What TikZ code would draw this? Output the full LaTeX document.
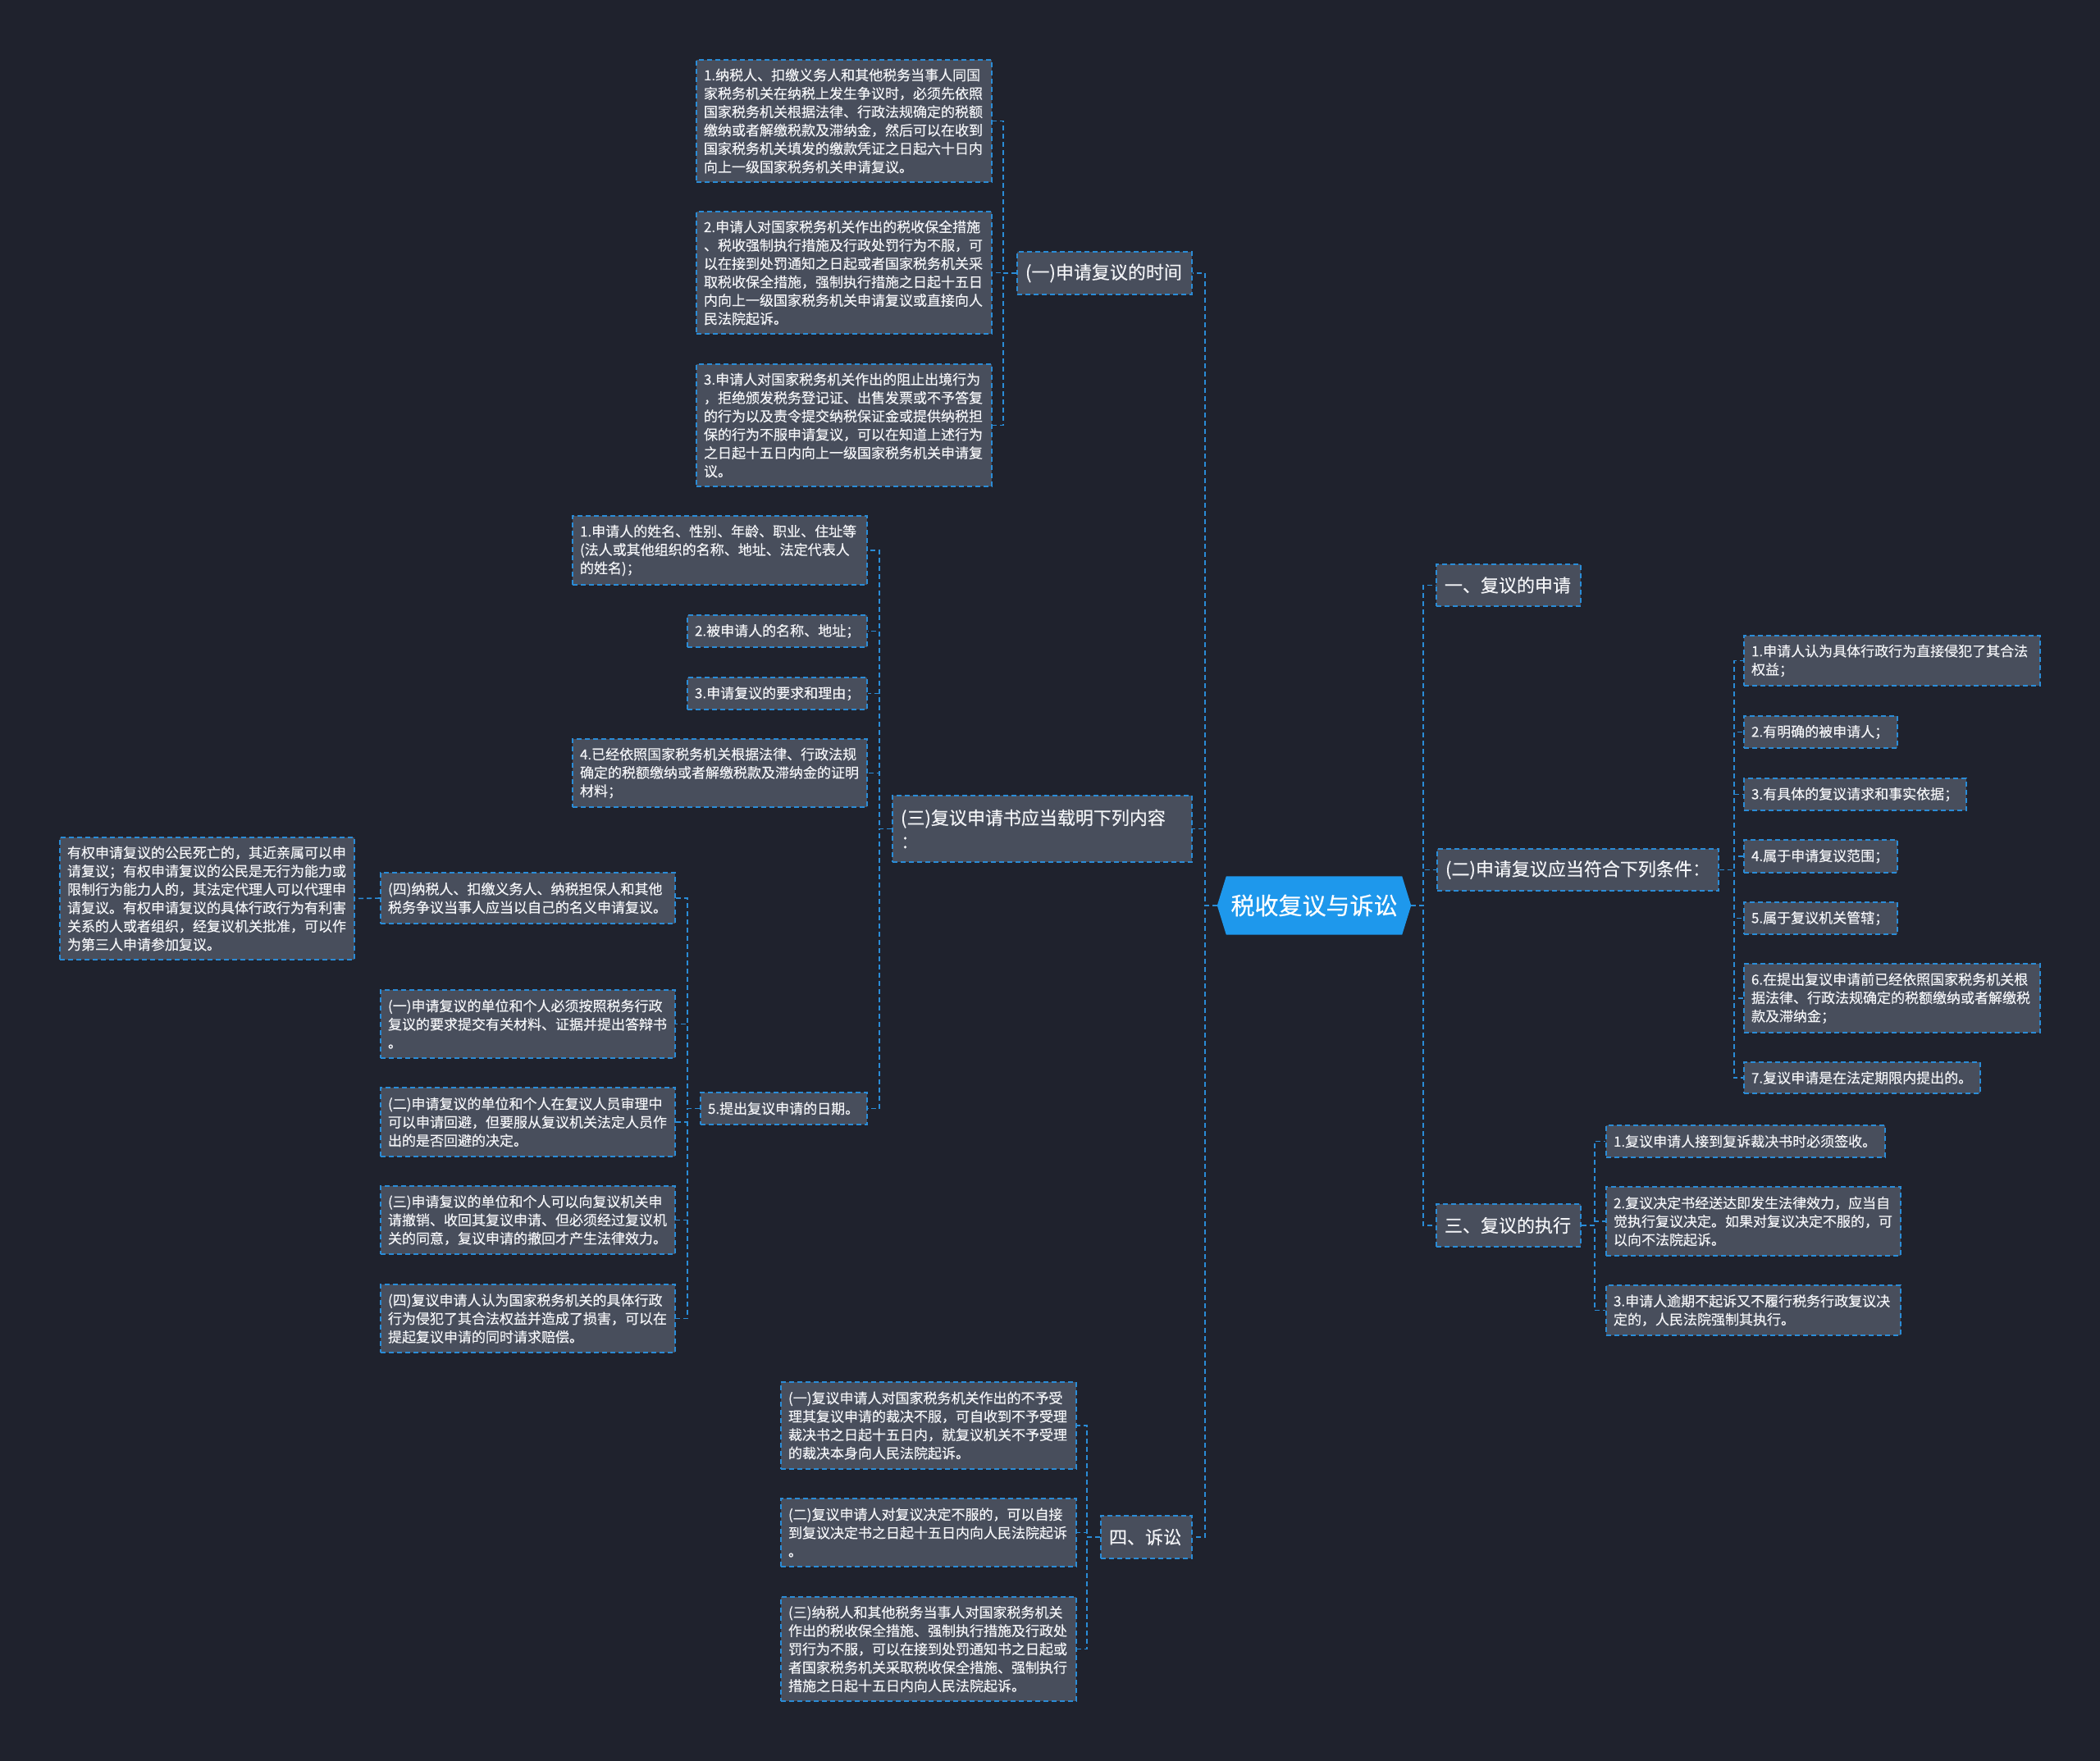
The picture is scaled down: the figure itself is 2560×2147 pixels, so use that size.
\documentclass[tikz,border=0pt]{standalone}
\usepackage{fontspec}
\newfontfamily\cjk[FakeBold=0.35]{Noto Sans CJK SC}
\usetikzlibrary{backgrounds}
\definecolor{bgc}{RGB}{31,34,45}
\definecolor{nodefill}{RGB}{72,78,92}
\definecolor{lineblue}{RGB}{42,140,215}
\definecolor{rootblue}{RGB}{30,152,236}
\definecolor{txt}{RGB}{242,243,246}
\tikzset{
  base/.style={draw=lineblue, line width=1.6pt, dash pattern=on 6pt off 4pt, fill=nodefill, text=txt, inner sep=0pt, align=left},
  leaf/.style={base, font=\cjk\fontsize{17}{22.4}\selectfont},
  cat/.style={base, font=\cjk\fontsize{22}{29}\selectfont},
  wh/.style n args={3}{minimum width=#1, minimum height=#2, text width=#3},
  conn/.style={draw=lineblue, line width=1.6pt, dash pattern=on 6pt off 4pt},
  rootnode/.style={text=white, font=\cjk\fontsize{29}{34}\selectfont, inner sep=0pt, minimum width=236, minimum height=71},
}
\begin{document}
\begin{tikzpicture}[x=1pt,y=-1pt]
\begin{scope}[on background layer]
\fill[bgc] (0,0) rectangle (2560,2147);
\end{scope}
\useasboundingbox (0,0) rectangle (2560,2147);

% root
\node[rootnode] (root) at (1602,1104) {税收复议与诉讼};
\begin{scope}[on background layer]
\fill[rootblue] ([xshift=11pt]root.north west) -- ([xshift=-11pt]root.north east) -- (root.east) -- ([xshift=-11pt]root.south east) -- ([xshift=11pt]root.south west) -- (root.west) -- cycle;
\end{scope}

% left categories
\node[cat, wh={213}{52}{193}] (t1) at (1346.5,333) {(一)申请复议的时间};
\node[cat, wh={365}{81}{345}] (t2) at (1270.5,1010.5) {(三)复议申请书应当载明下列内容\\：};
\node[cat, wh={111}{52}{91}] (t3) at (1397.5,1874) {四、诉讼};

% (一) children
\node[leaf, wh={360}{149}{342}] (a1) at (1029,147.5) {1.纳税人、扣缴义务人和其他税务当事人同国\\家税务机关在纳税上发生争议时，必须先依照\\国家税务机关根据法律、行政法规确定的税额\\缴纳或者解缴税款及滞纳金，然后可以在收到\\国家税务机关填发的缴款凭证之日起六十日内\\向上一级国家税务机关申请复议。};
\node[leaf, wh={360}{149}{342}] (a2) at (1029,332.5) {2.申请人对国家税务机关作出的税收保全措施\\、税收强制执行措施及行政处罚行为不服，可\\以在接到处罚通知之日起或者国家税务机关采\\取税收保全措施，强制执行措施之日起十五日\\内向上一级国家税务机关申请复议或直接向人\\民法院起诉。};
\node[leaf, wh={360}{149}{342}] (a3) at (1029,518.5) {3.申请人对国家税务机关作出的阻止出境行为\\，拒绝颁发税务登记证、出售发票或不予答复\\的行为以及责令提交纳税保证金或提供纳税担\\保的行为不服申请复议，可以在知道上述行为\\之日起十五日内向上一级国家税务机关申请复\\议。};

% (三) children
\node[leaf, wh={359}{84}{341}] (b1) at (877.5,671) {1.申请人的姓名、性别、年龄、职业、住址等\\(法人或其他组织的名称、地址、法定代表人\\的姓名)；};
\node[leaf, wh={219}{39}{201}] (b2) at (947.5,769.5) {2.被申请人的名称、地址；};
\node[leaf, wh={219}{39}{201}] (b3) at (947.5,845.5) {3.申请复议的要求和理由；};
\node[leaf, wh={359}{83}{341}] (b4) at (877.5,942.5) {4.已经依照国家税务机关根据法律、行政法规\\确定的税额缴纳或者解缴税款及滞纳金的证明\\材料；};
\node[leaf, wh={203}{39}{185}] (b5) at (955.5,1351.5) {5.提出复议申请的日期。};

% 5. children
\node[leaf, wh={359}{62}{341}] (c0) at (643.5,1095) {(四)纳税人、扣缴义务人、纳税担保人和其他\\税务争议当事人应当以自己的名义申请复议。};
\node[leaf, wh={359}{149}{341}] (d0) at (252.5,1095.5) {有权申请复议的公民死亡的，其近亲属可以申\\请复议；有权申请复议的公民是无行为能力或\\限制行为能力人的，其法定代理人可以代理申\\请复议。有权申请复议的具体行政行为有利害\\关系的人或者组织，经复议机关批准，可以作\\为第三人申请参加复议。};
\node[leaf, wh={359}{83}{341}] (c1) at (643.5,1248.5) {(一)申请复议的单位和个人必须按照税务行政\\复议的要求提交有关材料、证据并提出答辩书\\。};
\node[leaf, wh={359}{84}{341}] (c2) at (643.5,1368) {(二)申请复议的单位和个人在复议人员审理中\\可以申请回避，但要服从复议机关法定人员作\\出的是否回避的决定。};
\node[leaf, wh={359}{83}{341}] (c3) at (643.5,1487.5) {(三)申请复议的单位和个人可以向复议机关申\\请撤销、收回其复议申请、但必须经过复议机\\关的同意，复议申请的撤回才产生法律效力。};
\node[leaf, wh={359}{83}{341}] (c4) at (643.5,1607.5) {(四)复议申请人认为国家税务机关的具体行政\\行为侵犯了其合法权益并造成了损害，可以在\\提起复议申请的同时请求赔偿。};

% 四、诉讼 children
\node[leaf, wh={360}{106}{342}] (e1) at (1132,1738) {(一)复议申请人对国家税务机关作出的不予受\\理其复议申请的裁决不服，可自收到不予受理\\裁决书之日起十五日内，就复议机关不予受理\\的裁决本身向人民法院起诉。};
\node[leaf, wh={360}{83}{342}] (e2) at (1132,1868.5) {(二)复议申请人对复议决定不服的，可以自接\\到复议决定书之日起十五日内向人民法院起诉\\。};
\node[leaf, wh={360}{127}{342}] (e3) at (1132,2010.5) {(三)纳税人和其他税务当事人对国家税务机关\\作出的税收保全措施、强制执行措施及行政处\\罚行为不服，可以在接到处罚通知书之日起或\\者国家税务机关采取税收保全措施、强制执行\\措施之日起十五日内向人民法院起诉。};

% right categories
\node[cat, wh={176}{51}{156}] (r1) at (1839,713.5) {一、复议的申请};
\node[cat, wh={343}{51}{323}] (r2) at (1923.5,1060.5) {(二)申请复议应当符合下列条件：};
\node[cat, wh={176}{52}{156}] (r3) at (1839,1494) {三、复议的执行};

% (二) children
\node[leaf, wh={361}{61}{343}] (s1) at (2306.5,805.5) {1.申请人认为具体行政行为直接侵犯了其合法\\权益；};
\node[leaf, wh={187}{39}{169}] (s2) at (2219.5,892.5) {2.有明确的被申请人；};
\node[leaf, wh={271}{39}{253}] (s3) at (2261.5,968.5) {3.有具体的复议请求和事实依据；};
\node[leaf, wh={187}{40}{169}] (s4) at (2219.5,1044) {4.属于申请复议范围；};
\node[leaf, wh={187}{39}{169}] (s5) at (2219.5,1119.5) {5.属于复议机关管辖；};
\node[leaf, wh={361}{84}{343}] (s6) at (2306.5,1217) {6.在提出复议申请前已经依照国家税务机关根\\据法律、行政法规确定的税额缴纳或者解缴税\\款及滞纳金；};
\node[leaf, wh={288}{38}{270}] (s7) at (2270,1314) {7.复议申请是在法定期限内提出的。};

% 三 children
\node[leaf, wh={340}{39}{322}] (u1) at (2128,1391.5) {1.复议申请人接到复诉裁决书时必须签收。};
\node[leaf, wh={359}{84}{341}] (u2) at (2137.5,1489) {2.复议决定书经送达即发生法律效力，应当自\\觉执行复议决定。如果对复议决定不服的，可\\以向不法院起诉。};
\node[leaf, wh={359}{61}{341}] (u3) at (2137.5,1597.5) {3.申请人逾期不起诉又不履行税务行政复议决\\定的，人民法院强制其执行。};

% connectors: root
\foreach \c in {t1,t2,t3} \draw[conn] (root.west) -- ++(-15,0) |- (\c.east);
\foreach \c in {r1,r2,r3} \draw[conn] (root.east) -- ++(15,0) |- (\c.west);
% left
\foreach \c in {a1,a2,a3} \draw[conn] (t1.west) -- ++(-16,0) |- (\c.east);
\foreach \c in {b1,b2,b3,b4,b5} \draw[conn] (t2.west) -- ++(-15,0) |- (\c.east);
\foreach \c in {e1,e2,e3} \draw[conn] (t3.west) -- ++(-16,0) |- (\c.east);
\foreach \c in {c0,c1,c2,c3,c4} \draw[conn] (b5.west) -- ++(-15,0) |- (\c.east);
\draw[conn] (c0.west) -- (d0.east);
% right
\foreach \c in {s1,s2,s3,s4,s5,s6,s7} \draw[conn] (r2.east) -- ++(18,0) |- (\c.west);
\foreach \c in {u1,u2,u3} \draw[conn] (r3.east) -- ++(16,0) |- (\c.west);
\end{tikzpicture}
\end{document}
